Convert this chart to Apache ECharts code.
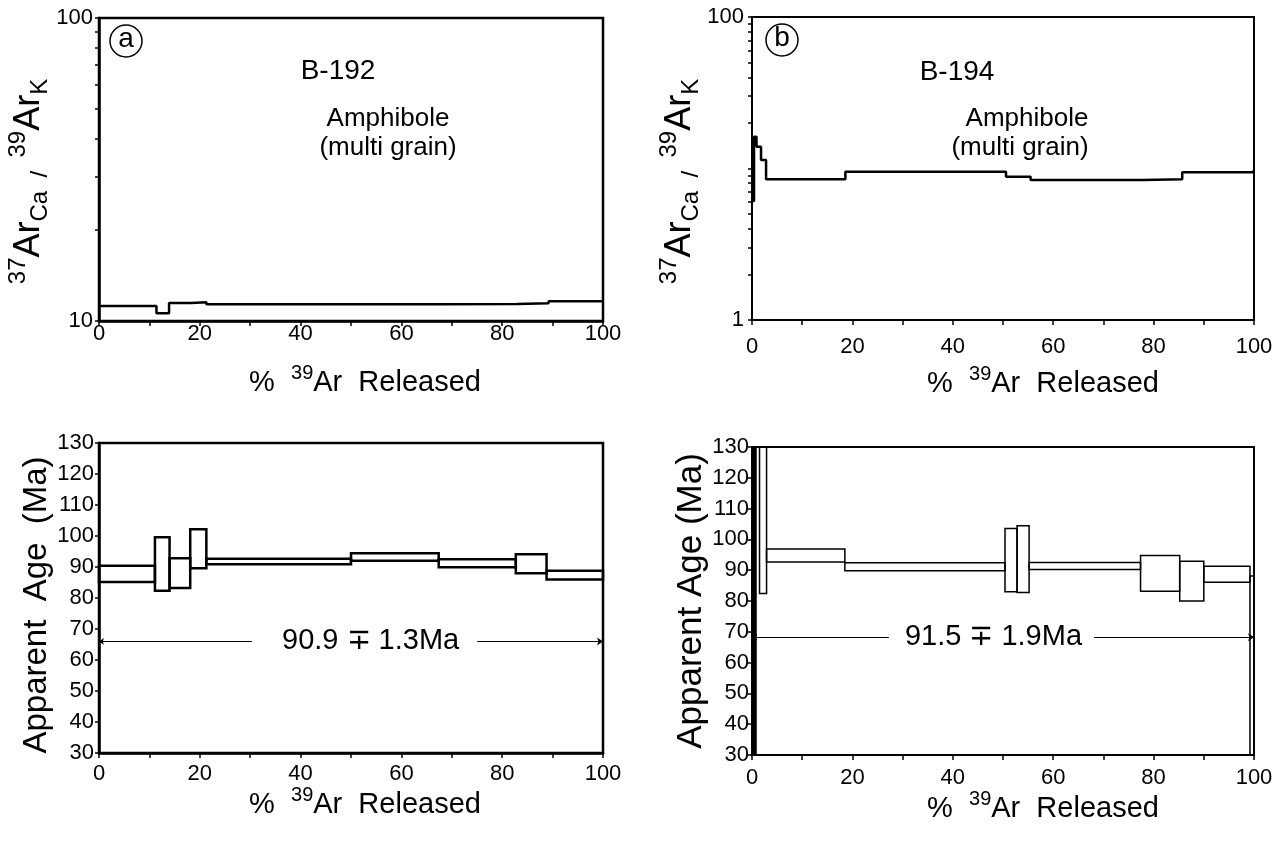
<!DOCTYPE html>
<html><head><meta charset="utf-8">
<script src="https://cdn.jsdelivr.net/npm/echarts@6/dist/echarts.min.js"></script>
<style>html,body{margin:0;padding:0;background:#fff}#c{width:1286px;height:848px}</style>
</head><body><div id="c"></div>
<script>
const FONT = 'Liberation Sans, Arial, Helvetica, sans-serif';

// ---- Panel a (B-192): 37ArCa/39ArK step spectrum ----
const caA_bounds = [0, 11.4, 13.9, 18.3, 21.3, 67.7, 83.0, 89.2, 100];
const caA_values = [11.21, 10.60, 11.47, 11.53, 11.35, 11.38, 11.44, 11.62];

// ---- Panel b (B-194): 37ArCa/39ArK step spectrum ----
const caB_bounds = [0, 0.4, 0.9, 1.8, 2.8, 18.6, 50.6, 55.5, 77.9, 85.7, 99.7, 100];
const caB_values = [6.1, 16.2, 13.9, 11.4, 8.49, 9.53, 8.83, 8.39, 8.49, 9.44, 9.68];

// ---- Age spectrum a (B-192) ----
const ageA_bounds = [0, 11.1, 14.0, 18.1, 21.3, 50.0, 67.4, 82.7, 88.8, 100];
const ageA_hi = [90.4, 99.6, 92.8, 102.2, 92.7, 94.4, 92.5, 94.1, 88.8];
const ageA_lo = [85.2, 82.3, 83.2, 89.6, 90.9, 92.0, 89.9, 88.0, 86.0];

// ---- Age spectrum b (B-194) ----
const ageB_start = [0, 1.5, 2.9, 18.5, 50.4, 52.8, 55.2, 77.4, 85.2, 90.0, 99.2];
const ageB_end   = [0.8, 2.9, 18.5, 50.4, 52.8, 55.2, 77.4, 85.2, 90.0, 99.2, 100];
const ageB_hi    = [300, 300, 96.9, 92.4, 103.5, 104.4, 92.5, 94.8, 92.9, 91.3, 88.1];
const ageB_lo    = [-100, 82.4, 92.7, 89.8, 83.0, 82.8, 90.2, 83.2, 80.0, 86.1, -100];
const ageB_solid = [1, 0, 0, 0, 0, 0, 0, 0, 0, 0, 0];

// ---- Plateau annotations ----
const plateau_labels = ['90.9 \u2213 1.3Ma', '91.5 \u2213 1.9Ma'];
const plateau_y      = [66, 68.2];
const plateau_from   = [0, 0];
const plateau_to     = [100, 100];
const plateau_textX  = [52.7, 47.7];

// ---- Tick steps ----
const xTickStep = 20;
const ageTickStep = 10;

const labelPad = [[0, 18, 0, 30], [0, 12, 0, 16]];

function stepData(bounds, values) {
  const d = [];
  for (let i = 0; i < values.length; i++) d.push([bounds[i], values[i]]);
  d.push([bounds[bounds.length - 1], values[values.length - 1]]);
  return d;
}

function boxRenderer(lw) {
  return function (params, api) {
    const p0 = api.coord([api.value(0), api.value(3)]);
    const p1 = api.coord([api.value(1), api.value(2)]);
    const cs = params.coordSys;
    const shape = echarts.graphic.clipRectByRect(
      {x: p0[0], y: p0[1], width: p1[0] - p0[0], height: p1[1] - p0[1]},
      {x: cs.x, y: cs.y, width: cs.width, height: cs.height});
    if (!shape) return;
    return {type: 'rect', shape: shape,
      style: {fill: api.value(4) ? '#000' : 'rgba(0,0,0,0)', stroke: '#000', lineWidth: lw}};
  };
}

function labelRenderer(k) {
  return function (params, api) {
    const p = api.coord([api.value(0), api.value(1)]);
    return {type: 'text', x: p[0], y: p[1], z2: 10,
      style: {text: plateau_labels[k], font: '29px ' + FONT, fill: '#000',
        align: 'center', verticalAlign: 'middle',
        backgroundColor: '#fff', padding: labelPad[k]}};
  };
}

function rich(nSize, sSize) {
  return {
    n: {fontSize: nSize, fontFamily: FONT, color: '#000', lineHeight: nSize + 10, verticalAlign: 'middle'},
    s: {fontSize: sSize, fontFamily: FONT, color: '#000', lineHeight: sSize + 2, verticalAlign: 'top'},
    b: {fontSize: sSize, fontFamily: FONT, color: '#000', lineHeight: sSize + 2, verticalAlign: 'bottom'}
  };
}
const xName = '{n|%  }{s|39}{n|Ar  Released}';
const caName = '{s|37}{n|Ar}{b|Ca}{b|  /  }{s|39}{n|Ar}{b|K}';
const ageNameA = '{n|Apparent  Age  (Ma)}';
const ageNameB = '{n|Apparent Age (Ma)}';

function xAxis(gi, gap, margin, lw, shift) {
  return {
    type: 'value', gridIndex: gi, min: 0, max: 100, interval: xTickStep,
    axisLine: {show: true, onZero: false, lineStyle: {color: '#000', width: lw}},
    axisTick: {show: true, length: 5, lineStyle: {color: '#000', width: 1.5}},
    minorTick: {show: true, splitNumber: 2, length: 5, lineStyle: {color: '#000', width: 1.5}},
    splitLine: {show: false}, minorSplitLine: {show: false},
    axisLabel: {color: '#000', fontSize: 22, fontFamily: FONT, margin: margin},
    name: xName, nameLocation: 'middle', nameGap: gap,
    nameTextStyle: {rich: rich(29, 20), padding: [0, 0, 0, shift]}
  };
}

const option = {
  backgroundColor: '#fff',
  animation: false,
  grid: [
    {left: 99, top: 18, width: 504, height: 303, show: true, borderColor: '#000', borderWidth: 2.5},
    {left: 752, top: 17, width: 502, height: 303, show: true, borderColor: '#000', borderWidth: 2},
    {left: 99, top: 443, width: 504, height: 310, show: true, borderColor: '#000', borderWidth: 2.5},
    {left: 752, top: 447, width: 502, height: 308, show: true, borderColor: '#000', borderWidth: 2}
  ],
  xAxis: [
    xAxis(0, 42, 2, 2.5, 28),
    xAxis(1, 44, 16, 2, 80),
    xAxis(2, 27, 10, 2.5, 28),
    xAxis(3, 28, 12, 2, 80)
  ],
  yAxis: [
    {type: 'log', logBase: 10, gridIndex: 0, min: 10, max: 100,
      axisLine: {show: true, lineStyle: {color: '#000', width: 2.5}},
      axisTick: {show: true, length: 4, lineStyle: {color: '#000', width: 1.5}},
      minorTick: {show: true, splitNumber: 9, length: 4, lineStyle: {color: '#000', width: 1.5}},
      splitLine: {show: false}, minorSplitLine: {show: false},
      axisLabel: {color: '#000', fontSize: 22, fontFamily: FONT, margin: 6},
      name: caName, nameLocation: 'middle', nameGap: 44,
      nameTextStyle: {rich: rich(36, 24), padding: [0, 24, 0, 0]}},
    {type: 'log', logBase: 10, gridIndex: 1, min: 1, max: 100,
      axisLine: {show: true, lineStyle: {color: '#000', width: 2}},
      axisTick: {show: true, length: 4, lineStyle: {color: '#000', width: 1.5}},
      minorTick: {show: true, splitNumber: 9, length: 4, lineStyle: {color: '#000', width: 1.5}},
      splitLine: {show: false}, minorSplitLine: {show: false},
      axisLabel: {color: '#000', fontSize: 22, fontFamily: FONT, margin: 8,
        formatter: v => (v === 10 ? '' : String(v))},
      name: caName, nameLocation: 'middle', nameGap: 38,
      nameTextStyle: {rich: rich(36, 24), padding: [0, 26, 0, 0]}},
    {type: 'value', gridIndex: 2, min: 30, max: 130, interval: ageTickStep,
      axisLine: {show: true, onZero: false, lineStyle: {color: '#000', width: 2.5}},
      axisTick: {show: true, length: 4, lineStyle: {color: '#000', width: 1.5}},
      splitLine: {show: false},
      axisLabel: {color: '#000', fontSize: 22, fontFamily: FONT, margin: 5},
      name: ageNameA, nameLocation: 'middle', nameGap: 41,
      nameTextStyle: {rich: rich(33, 20), padding: [0, 14, 0, 0]}},
    {type: 'value', gridIndex: 3, min: 30, max: 130, interval: ageTickStep,
      axisLine: {show: true, onZero: false, lineStyle: {color: '#000', width: 2}},
      axisTick: {show: true, length: 4, lineStyle: {color: '#000', width: 1.5}},
      splitLine: {show: false},
      axisLabel: {color: '#000', fontSize: 22, fontFamily: FONT, margin: 3},
      name: ageNameB, nameLocation: 'middle', nameGap: 36,
      nameTextStyle: {rich: rich(35, 20)}}
  ],
  series: [
    {type: 'line', xAxisIndex: 0, yAxisIndex: 0, step: 'end', symbol: 'none',
      data: stepData(caA_bounds, caA_values), lineStyle: {color: '#000', width: 2.5}},
    {type: 'line', xAxisIndex: 1, yAxisIndex: 1, step: 'end', symbol: 'none',
      data: stepData(caB_bounds, caB_values), lineStyle: {color: '#000', width: 2.5}},
    {type: 'custom', xAxisIndex: 2, yAxisIndex: 2, renderItem: boxRenderer(2.5),
      encode: {x: [0, 1], y: [2, 3]},
      data: ageA_hi.map((h, i) => [ageA_bounds[i], ageA_bounds[i + 1], ageA_lo[i], h, 0])},
    {type: 'custom', xAxisIndex: 3, yAxisIndex: 3, renderItem: boxRenderer(1.5),
      encode: {x: [0, 1], y: [2, 3]},
      data: ageB_hi.map((h, i) => [ageB_start[i], ageB_end[i], ageB_lo[i], h, ageB_solid[i]])},
    ...[0, 1].map(k => ({
      type: 'lines', coordinateSystem: 'cartesian2d', xAxisIndex: 2 + k, yAxisIndex: 2 + k,
      symbol: ['arrow', 'arrow'], symbolSize: [5, 6],
      lineStyle: {color: '#000', width: 1, opacity: 1},
      data: [{coords: [[plateau_from[k], plateau_y[k]], [plateau_to[k], plateau_y[k]]]}]
    })),
    ...[0, 1].map(k => ({
      type: 'custom', xAxisIndex: 2 + k, yAxisIndex: 2 + k, z: 10,
      renderItem: labelRenderer(k),
      data: [[plateau_textX[k], plateau_y[k]]]
    }))
  ],
  graphic: [
    {type: 'circle', shape: {cx: 126, cy: 41, r: 16}, style: {fill: 'none', stroke: '#000', lineWidth: 1.5}},
    {type: 'text', x: 126, y: 39, style: {text: 'a', font: '28px ' + FONT, fill: '#000', align: 'center', verticalAlign: 'middle'}},
    {type: 'text', x: 338, y: 71, style: {text: 'B-192', font: '28px ' + FONT, fill: '#000', align: 'center', verticalAlign: 'middle'}},
    {type: 'text', x: 388, y: 119, style: {text: 'Amphibole', font: '26px ' + FONT, fill: '#000', align: 'center', verticalAlign: 'middle'}},
    {type: 'text', x: 388, y: 148, style: {text: '(multi grain)', font: '26px ' + FONT, fill: '#000', align: 'center', verticalAlign: 'middle'}},
    {type: 'circle', shape: {cx: 782, cy: 40, r: 16}, style: {fill: 'none', stroke: '#000', lineWidth: 1.5}},
    {type: 'text', x: 782, y: 38, style: {text: 'b', font: '28px ' + FONT, fill: '#000', align: 'center', verticalAlign: 'middle'}},
    {type: 'text', x: 957, y: 72, style: {text: 'B-194', font: '28px ' + FONT, fill: '#000', align: 'center', verticalAlign: 'middle'}},
    {type: 'text', x: 1027, y: 119, style: {text: 'Amphibole', font: '26px ' + FONT, fill: '#000', align: 'center', verticalAlign: 'middle'}},
    {type: 'text', x: 1020, y: 148, style: {text: '(multi grain)', font: '26px ' + FONT, fill: '#000', align: 'center', verticalAlign: 'middle'}}
  ]
};

const chart = echarts.init(document.getElementById('c'), null, {renderer: 'canvas'});
chart.setOption(option);
</script>
</body></html>
